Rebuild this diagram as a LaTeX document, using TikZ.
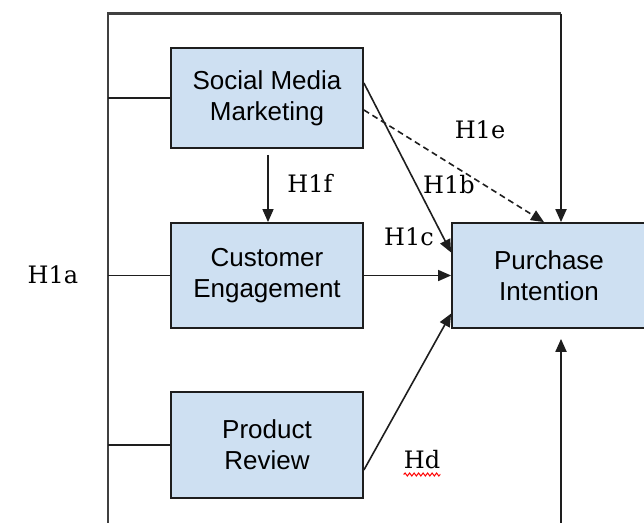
\documentclass[tikz,border=0pt]{standalone}
\usepackage{fontspec}
\setmainfont{Liberation Sans}
\newfontfamily\labelfont{DejaVu Serif}
\usetikzlibrary{arrows.meta,calc,decorations.pathmorphing}

\definecolor{boxblue}{RGB}{206,224,242}
\definecolor{edgegray}{RGB}{30,30,30}

\tikzset{
  construct/.style={rectangle, draw=edgegray, line width=1.8pt, fill=boxblue,
    minimum width=192pt, minimum height=104pt, inner sep=0pt, align=center,
    font=\fontsize{26}{31}\selectfont},
  link/.style={draw=edgegray, line width=1.6pt},
  arr/.style={link, -{Triangle[length=13pt,width=11pt]}},
  hyp/.style={font=\labelfont\fontsize{24}{28}\selectfont, inner sep=0pt},
  frame/.style={draw=black!75, line width=2.2pt}
}

\begin{document}
\begin{tikzpicture}[x=1pt,y=-1pt]
  \useasboundingbox (0,0) rectangle (644,522);
  \clip (0,0) rectangle (644,522);

  % constructs
  \node[construct, minimum height=100pt] (SMM) at (267,98) {Social Media\\Marketing};
  \node[construct, minimum height=105pt] (CE)  at (267,275.5) {Customer\\Engagement};
  \node[construct, minimum height=106pt] (PR)  at (267,445) {Product\\Review};
  \node[construct, minimum height=105pt, minimum width=194pt] (PI) at (549,275.5) {Purchase\\Intention};

  % outer frame: left bus and top line (H1a)
  \coordinate (lbot) at (108,526);
  \coordinate (ltop) at (108,13.5);
  \coordinate (rtop) at (561,13.5);
  \coordinate (rbot) at (561,526);
  \draw[frame] (lbot) -- (ltop) -- (rtop);
  \draw[arr, line width=2pt] (rtop) -- (rtop |- PI.north);
  \draw[link] (SMM.west -| ltop) -- (SMM.west);
  \draw[link] (CE.west -| ltop) -- (CE.west);
  \draw[link] (PR.west -| ltop) -- (PR.west);

  % bottom arrow into Purchase Intention
  \draw[arr, line width=2pt] (rbot) -- ($(rbot |- PI.south)+(0,10)$);

  % direct paths
  \draw[arr] ($(SMM.south)+(1,6)$) -- ($(CE.north)+(1,0)$);
  \draw[arr] ($(SMM.east)+(0,-15)$) -- ($(PI.west)+(0,-23)$);
  \draw[arr, dashed, dash pattern=on 6pt off 4pt] ($(SMM.east)+(0,12)$) -- ($(PI.north)+(-5,0)$);
  \draw[arr] (CE.east) -- (PI.west);
  \draw[arr] ($(PR.east)+(0,25)$) -- ($(PI.west)+(0,38)$);

  % hypothesis labels
  \node[hyp] (h1a) at (53,275) {H1a};
  \node[hyp] (h1e) at (480,130) {H1e};
  \node[hyp] (h1b) at (449,185) {H1b};
  \node[hyp] (h1c) at (409,237) {H1c};
  \node[hyp] (h1f) at (310,183) {H1f};
  \node[hyp] (hd)  at (422,460) {Hd};
  \draw[red, line width=1pt, decorate,
        decoration={snake, amplitude=1.5pt, segment length=4.5pt}]
    ($(hd.south west)+(0,5)$) -- ($(hd.south east)+(0,5)$);
\end{tikzpicture}
\end{document}
